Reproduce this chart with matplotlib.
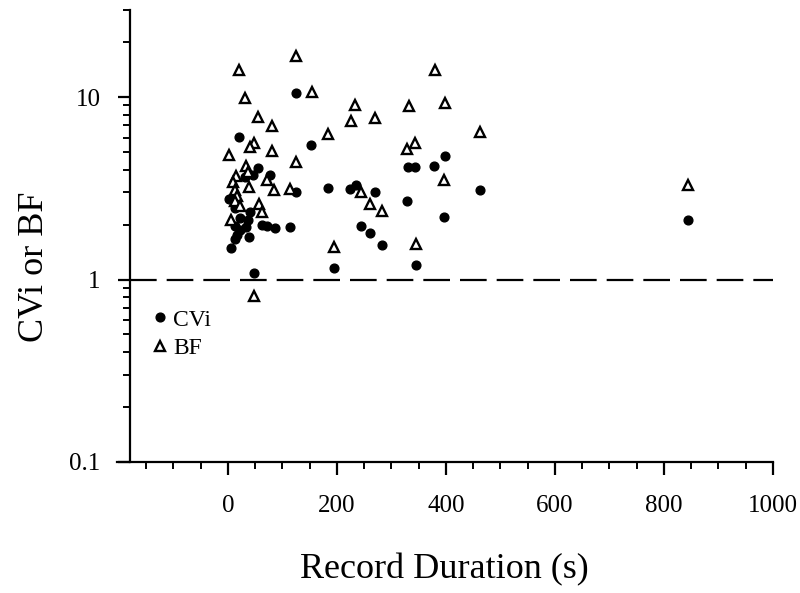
import matplotlib
matplotlib.use("Agg")
import matplotlib.pyplot as plt
from matplotlib.ticker import FixedLocator, NullFormatter

plt.rcParams["font.family"] = ["Liberation Serif", "DejaVu Serif"]

# CVi (filled circles)
cvi_x = [125, 21, 153, 55, 46, 31, 78, 125, 183, 224, 235, 270, 2, 13, 40, 22,
         37, 62, 71, 86, 113, 13, 34, 16, 13, 39, 5, 244, 261, 283, 194, 48,
         398, 331, 343, 379, 462, 328, 396, 345, 22, 844]
cvi_y = [10.5, 6.07, 5.47, 4.08, 3.75, 3.64, 3.75, 3.00, 3.17, 3.13, 3.30, 3.00,
         2.76, 2.46, 2.36, 2.17, 2.13, 2.00, 1.97, 1.92, 1.94, 1.96, 1.94, 1.76,
         1.67, 1.71, 1.48, 1.97, 1.80, 1.54, 1.16, 1.09, 4.78, 4.13, 4.13, 4.21,
         3.09, 2.69, 2.20, 1.20, 1.88, 2.13]

# BF (open triangles)
bf_x = [21, 125, 31, 154, 55, 80, 234, 225, 270, 183, 48, 40, 2, 80, 125, 33,
        37, 15, 9, 39, 71, 85, 113, 13, 17, 13, 23, 57, 63, 5, 244, 261, 283,
        194, 48, 380, 332, 398, 462, 343, 328, 396, 345, 844]
bf_y = [14.0, 16.7, 9.9, 10.6, 7.75, 6.97, 9.04, 7.39, 7.65, 6.25, 5.58, 5.31,
        4.82, 5.07, 4.40, 4.20, 3.91, 3.70, 3.44, 3.23, 3.52, 3.08, 3.13, 3.08,
        2.88, 2.68, 2.52, 2.60, 2.36, 2.11, 3.01, 2.60, 2.38, 1.51, 0.81, 14.0,
        8.93, 9.31, 6.41, 5.63, 5.20, 3.52, 1.57, 3.30]

fig = plt.figure(figsize=(8, 5.93), dpi=100)
ax = fig.add_axes([0.146, 0.221, 0.820, 0.762])

ax.plot(cvi_x, cvi_y, "o", color="black", markersize=6.3, label="CVi", zorder=3)
ax.plot(bf_x, bf_y, "^", markerfacecolor="white", markeredgecolor="black",
        markeredgewidth=1.7, markersize=7.8, label="BF", zorder=3)

# reference line at 1
ax.plot([-180, 1000], [1, 1], color="black", linewidth=1.6,
        dashes=(12, 4.5), zorder=2)

ax.set_yscale("log")
ax.set_ylim(0.1, 30)
ax.set_xlim(-204, 1000)

ax.spines["top"].set_visible(False)
ax.spines["right"].set_visible(False)
ax.spines["left"].set_position(("data", -180))
for s in ("left", "bottom"):
    ax.spines[s].set_linewidth(1.6)

ax.xaxis.set_major_locator(FixedLocator([0, 200, 400, 600, 800, 1000]))
ax.xaxis.set_minor_locator(FixedLocator([v for v in range(-150, 1000, 50)
                                         if v % 200 != 0]))
ax.yaxis.set_major_locator(FixedLocator([0.1, 1, 10]))
minors = [m * 0.1 for m in range(2, 10)] + [m * 1.0 for m in range(2, 10)] + [20, 30]
ax.yaxis.set_minor_locator(FixedLocator(minors))
ax.yaxis.set_minor_formatter(NullFormatter())
ax.set_yticklabels(["0.1", "1", "10"])

ax.tick_params(which="major", direction="out", length=9, width=1.6,
               labelsize=18, pad=12)
ax.tick_params(axis="x", which="major", pad=15)
ax.tick_params(which="minor", direction="out", length=5, width=1.4)

ax.set_xlabel("Record Duration (s)", fontsize=26, va="baseline")
ax.set_ylabel("CVi or BF", fontsize=26, va="baseline")
ax.xaxis.set_label_coords(0.5, -0.257)
ax.yaxis.set_label_coords(-0.113, 0.431)

ax.legend(loc="center left", bbox_to_anchor=(0.036, 0.283), frameon=False,
          fontsize=17, handlelength=0.7, handletextpad=0.2, labelspacing=0.3,
          borderpad=0)

fig.savefig("out.png", dpi=100)
